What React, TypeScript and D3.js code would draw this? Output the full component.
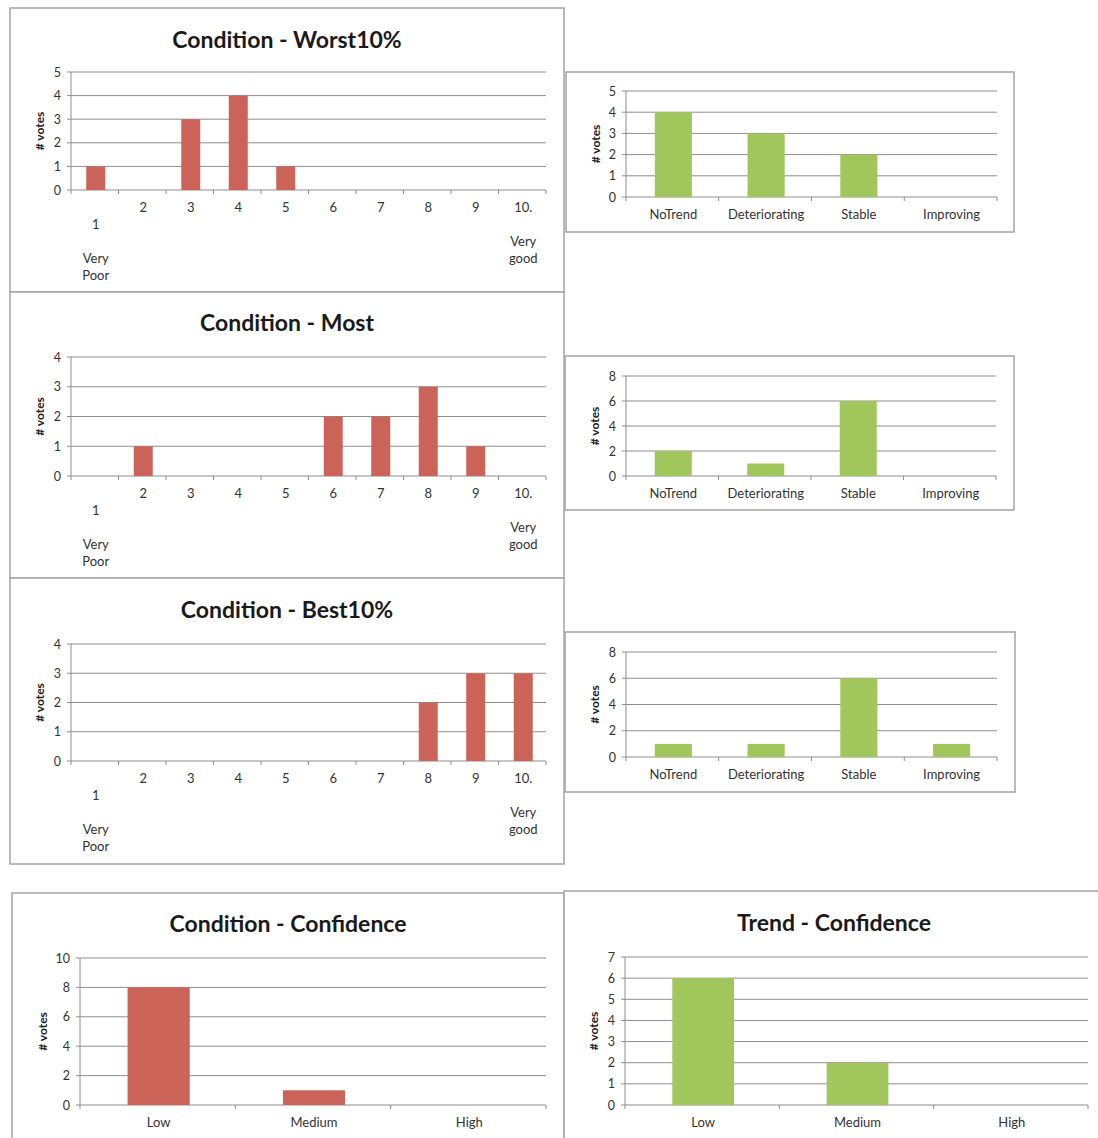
import React, { useEffect, useRef } from 'react';
import * as d3 from 'd3';

// categories
const scoreCats = ['1', '2', '3', '4', '5', '6', '7', '8', '9', '10'];
const trendCats = ['NoTrend', 'Deteriorating', 'Stable', 'Improving'];
const confCats = ['Low', 'Medium', 'High'];

// multi-line tick labels for the 1..10 scale
const scoreTickLines = [
  ['', '1', '', 'Very', 'Poor'],
  ['2'], ['3'], ['4'], ['5'], ['6'], ['7'], ['8'], ['9'],
  ['10.', '', 'Very', 'good'],
];

// votes
const worstVotes = [1, 0, 3, 4, 1, 0, 0, 0, 0, 0];
const mostVotes = [0, 1, 0, 0, 0, 2, 2, 3, 1, 0];
const bestVotes = [0, 0, 0, 0, 0, 0, 0, 2, 3, 3];
const trendWorstVotes = [4, 3, 2, 0];
const trendMostVotes = [2, 1, 6, 0];
const trendBestVotes = [1, 1, 6, 1];
const condConfVotes = [8, 1, 0];
const trendConfVotes = [6, 2, 0];

const RED = '#cb6358';
const GREEN = '#a1c65b';
const GRID = '#8e8e8e';
const FRAME = '#a4a4a4';
const FONT = 'Lato, "Open Sans", sans-serif';

interface Panel {
  frame: [number, number, number, number];
  title?: string;
  titleY?: number;
  plot: { left: number; right: number; top: number; bottom: number };
  yMax: number;
  yStep: number;
  cats: string[];
  values: number[];
  lines?: string[][];
  color: string;
  ylabelX: number;
}

const panels: Panel[] = [
  {
    frame: [10, 8, 554, 284], title: 'Condition - Worst10%', titleY: 48,
    plot: { left: 71, right: 546, top: 72, bottom: 190 }, yMax: 5, yStep: 1,
    cats: scoreCats, values: worstVotes, lines: scoreTickLines, color: RED, ylabelX: 44,
  },
  {
    frame: [10, 292, 554, 286], title: 'Condition - Most', titleY: 331,
    plot: { left: 71, right: 546, top: 357, bottom: 476 }, yMax: 4, yStep: 1,
    cats: scoreCats, values: mostVotes, lines: scoreTickLines, color: RED, ylabelX: 44,
  },
  {
    frame: [10, 578, 554, 286], title: 'Condition - Best10%', titleY: 618,
    plot: { left: 71, right: 546, top: 644, bottom: 761 }, yMax: 4, yStep: 1,
    cats: scoreCats, values: bestVotes, lines: scoreTickLines, color: RED, ylabelX: 44,
  },
  {
    frame: [566, 72, 448, 160],
    plot: { left: 626, right: 997, top: 91, bottom: 197 }, yMax: 5, yStep: 1,
    cats: trendCats, values: trendWorstVotes, color: GREEN, ylabelX: 600,
  },
  {
    frame: [565, 356, 449, 154],
    plot: { left: 626, right: 996, top: 376, bottom: 476 }, yMax: 8, yStep: 2,
    cats: trendCats, values: trendMostVotes, color: GREEN, ylabelX: 599,
  },
  {
    frame: [565, 632, 450, 160],
    plot: { left: 626, right: 997, top: 652, bottom: 757 }, yMax: 8, yStep: 2,
    cats: trendCats, values: trendBestVotes, color: GREEN, ylabelX: 599,
  },
  {
    frame: [12, 893, 552, 260], title: 'Condition - Confidence', titleY: 932,
    plot: { left: 80, right: 546, top: 958, bottom: 1105 }, yMax: 10, yStep: 2,
    cats: confCats, values: condConfVotes, color: RED, ylabelX: 47,
  },
  {
    frame: [564, 891, 540, 260], title: 'Trend - Confidence', titleY: 931,
    plot: { left: 625, right: 1088, top: 957, bottom: 1105 }, yMax: 7, yStep: 1,
    cats: confCats, values: trendConfVotes, color: GREEN, ylabelX: 598,
  },
];

function drawPanel(root: any, p: Panel) {
  const g = root.append('g');
  const [fx, fy, fw, fh] = p.frame;
  g.append('rect')
    .attr('x', fx).attr('y', fy).attr('width', fw).attr('height', fh)
    .attr('fill', 'white').attr('stroke', FRAME).attr('stroke-width', 1.5);

  if (p.title) {
    g.append('text')
      .attr('x', fx + fw / 2).attr('y', p.titleY)
      .attr('text-anchor', 'middle')
      .attr('font-family', FONT).attr('font-weight', 700).attr('font-size', 23)
      .attr('fill', '#1a1a1a')
      .text(p.title);
  }

  const { left, right, top, bottom } = p.plot;
  const x = d3.scaleBand().domain(p.cats).range([left, right]);
  const y = d3.scaleLinear().domain([0, p.yMax]).range([bottom, top]);
  const yTicks = d3.range(0, p.yMax + p.yStep / 2, p.yStep);

  // gridlines
  g.selectAll('.grid').data(yTicks.filter(t => t > 0)).join('line')
    .attr('x1', left).attr('x2', right)
    .attr('y1', d => y(d)).attr('y2', d => y(d))
    .attr('stroke', GRID).attr('stroke-width', 1);

  // y axis
  g.append('line').attr('x1', left).attr('x2', left).attr('y1', top).attr('y2', bottom)
    .attr('stroke', GRID).attr('stroke-width', 1);
  g.selectAll('.ytick').data(yTicks).join('line')
    .attr('x1', left - 4).attr('x2', left)
    .attr('y1', d => y(d)).attr('y2', d => y(d))
    .attr('stroke', GRID);
  g.selectAll('.ylab').data(yTicks).join('text')
    .attr('x', left - 10).attr('y', d => y(d) + 4.5)
    .attr('text-anchor', 'end')
    .attr('font-family', FONT).attr('font-size', 12.5).attr('fill', '#333')
    .text(d => d);

  // x axis
  g.append('line').attr('x1', left).attr('x2', right).attr('y1', bottom).attr('y2', bottom)
    .attr('stroke', GRID).attr('stroke-width', 1);
  const bounds = p.cats.map(c => x(c)!).concat([right]);
  g.selectAll('.xtick').data(bounds).join('line')
    .attr('x1', d => d).attr('x2', d => d)
    .attr('y1', bottom).attr('y2', bottom + 4)
    .attr('stroke', GRID);

  // bars
  const bw = x.bandwidth() * 0.4;
  g.selectAll('.bar').data(p.values).join('rect')
    .attr('x', (d, i) => x(p.cats[i])! + (x.bandwidth() - bw) / 2 + 1)
    .attr('width', bw)
    .attr('y', d => y(d))
    .attr('height', d => bottom - y(d))
    .attr('fill', p.color);

  // x labels
  const lines = p.lines || p.cats.map(c => [c]);
  lines.forEach((ls, i) => {
    const cx = x(p.cats[i])! + x.bandwidth() / 2 + 1;
    ls.forEach((t, j) => {
      if (!t) return;
      g.append('text')
        .attr('x', cx).attr('y', bottom + 22 + j * 17)
        .attr('text-anchor', 'middle')
        .attr('font-family', FONT).attr('font-size', 13).attr('fill', '#333')
        .text(t);
    });
  });

  // y axis title
  const cy = (top + bottom) / 2;
  g.append('text')
    .attr('transform', `translate(${p.ylabelX},${cy}) rotate(-90)`)
    .attr('text-anchor', 'middle')
    .attr('font-family', FONT).attr('font-weight', 700).attr('font-size', 12)
    .attr('fill', '#222')
    .text('# votes');
}

export default function App() {
  const ref = useRef<SVGSVGElement>(null);

  useEffect(() => {
    if (!ref.current) return;
    const svg = d3.select(ref.current);
    svg.selectAll('*').remove();
    svg.append('rect').attr('width', 1098).attr('height', 1138).attr('fill', 'white');
    panels.forEach(p => drawPanel(svg, p));
  }, []);

  return (
    <svg
      ref={ref}
      width={1098}
      height={1138}
      style={{ position: 'absolute', left: 0, top: 0, display: 'block' }}
    />
  );
}
